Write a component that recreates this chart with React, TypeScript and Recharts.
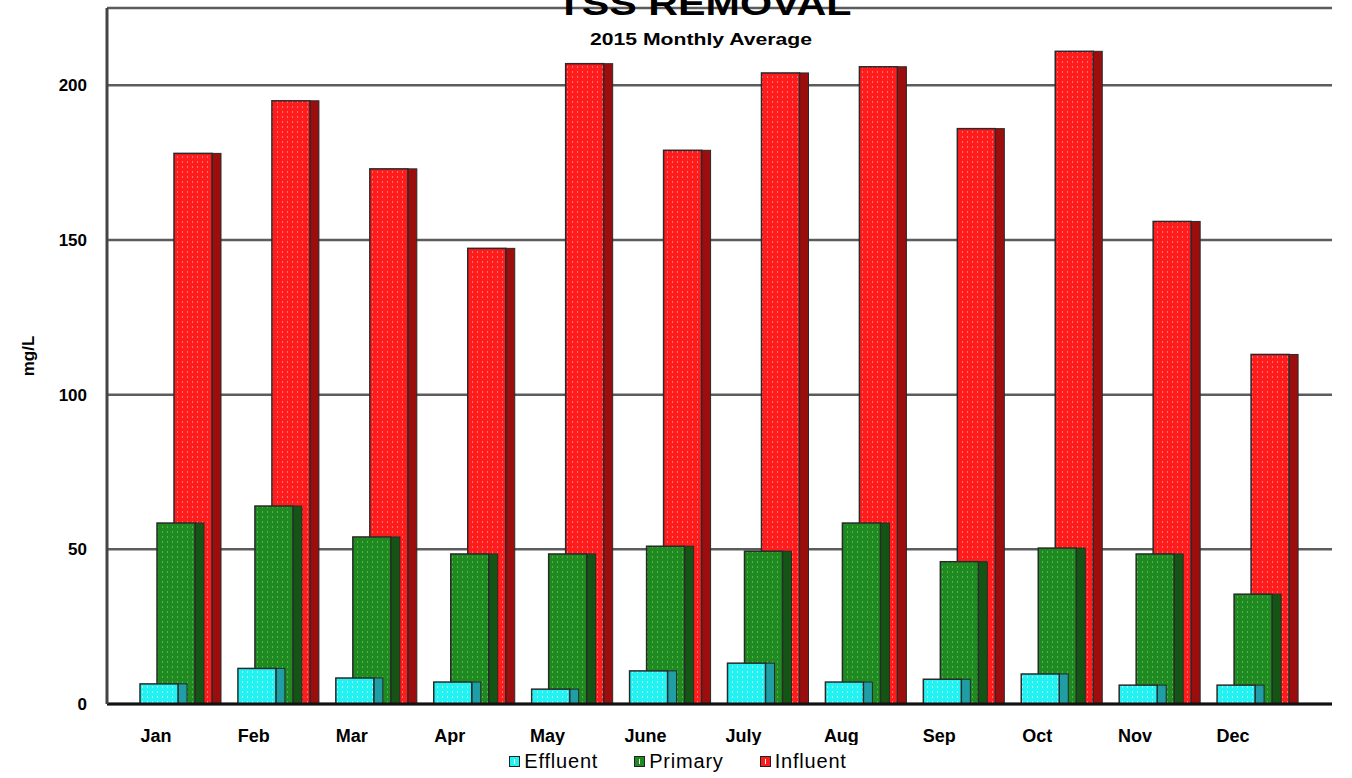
import { Bar, BarChart, CartesianGrid, Legend, XAxis, YAxis } from "recharts";

const months = ["Jan", "Feb", "Mar", "Apr", "May", "June", "July", "Aug", "Sep", "Oct", "Nov", "Dec"];
const effluent = [6.5, 11.5, 8.4, 7.1, 4.8, 10.7, 13.2, 7.1, 8, 9.7, 6.1, 6.1];
const primary = [58.5, 64, 54, 48.5, 48.5, 51, 49.4, 58.5, 46, 50.4, 48.5, 35.5];
const influent = [178, 195, 173, 147.3, 207, 179, 204, 206, 186, 211, 156, 113];
const yTicks = [0, 50, 100, 150, 200];
const legendOrder = ["Effluent", "Primary", "Influent"];

const data = months.map((month, i) => ({
  month,
  effluent: effluent[i],
  primary: primary[i],
  influent: influent[i],
}));

const FONT = '"Liberation Sans", Arial, sans-serif';

const palette = {
  effluent: { front: "#22f2f2", dots: "#a8fdfd", side: "#1f9ea6" },
  primary: { front: "#1f8a1f", dots: "#52b352", side: "#145414" },
  influent: { front: "#ff1c1c", dots: "#ff7272", side: "#9c0e0e" },
};

type Tone = { front: string; dots: string; side: string };

// front face + darker side face, a cheap 3D look
function Box3D(props: any) {
  const { x, y, width, height, tone, pid } = props as {
    x: number; y: number; width: number; height: number; tone: Tone; pid: string;
  };
  if (!height || height <= 0) return null;
  const depth = 9;
  return (
    <g>
      <rect x={x + width - depth} y={y} width={depth} height={height} fill={tone.side} stroke="#2a2a2a" strokeWidth={1} />
      <rect x={x} y={y} width={width - depth} height={height} fill={`url(#${pid})`} stroke="#2a2a2a" strokeWidth={1.5} />
    </g>
  );
}

function Swatch({ color }: { color: string }) {
  return (
    <span
      style={{
        display: "inline-block",
        width: 9,
        height: 9,
        background: color,
        border: "1.5px solid #222",
        marginRight: 4,
        position: "relative",
      }}
    >
      <span style={{ position: "absolute", left: 4, top: 2, width: 1, height: 5, background: "#fff" }} />
    </span>
  );
}

function LegendRow(props: any) {
  const items = [...(props.payload || [])].sort(
    (a: any, b: any) => legendOrder.indexOf(a.value) - legendOrder.indexOf(b.value)
  );
  return (
    <div
      style={{
        display: "flex",
        justifyContent: "center",
        alignItems: "center",
        gap: 36,
        height: 32,
        paddingLeft: 4,
        background: "#fff",
        fontSize: 20,
        letterSpacing: 0.8,
        color: "#000",
        fontFamily: FONT,
      }}
    >
      {items.map((it: any) => (
        <span key={it.value} style={{ display: "flex", alignItems: "center" }}>
          <Swatch color={it.color} />
          {it.value}
        </span>
      ))}
    </div>
  );
}

export default function App() {
  return (
    <div style={{ position: "absolute", top: 0, left: 0, width: 1352, height: 778, fontFamily: FONT, background: "#fff" }}>
      <BarChart width={1352} height={778} data={data} margin={{ top: 8, right: 20, bottom: 34, left: 0 }}>
        <CartesianGrid vertical={false} stroke="#5c5c5c" strokeWidth={2.5} />
        <XAxis
          dataKey="month"
          interval={0}
          padding={{ left: 0, right: 50 }}
          height={40}
          axisLine={{ stroke: "#111", strokeWidth: 3 }}
          tickLine={false}
          tickSize={0}
          tickMargin={25}
          tick={{ fontSize: 18, fontWeight: "bold", fill: "#000" }}
        />
        <XAxis xAxisId="i" dataKey="month" hide padding={{ left: 42, right: 8 }} />
        <XAxis xAxisId="p" dataKey="month" hide padding={{ left: 25, right: 25 }} />
        <XAxis xAxisId="e" dataKey="month" hide padding={{ left: 8, right: 42 }} />
        <YAxis
          width={107}
          domain={[0, 225]}
          ticks={yTicks}
          axisLine={{ stroke: "#444", strokeWidth: 3 }}
          tickLine={false}
          tickSize={0}
          tickMargin={20}
          tick={{ fontSize: 17, fontWeight: "bold", fill: "#000" }}
          label={{
            value: "mg/L",
            content: ({ viewBox }: any) => (
              <text
                x={0}
                y={0}
                transform={`translate(34, ${viewBox.y + viewBox.height / 2}) rotate(-90)`}
                textAnchor="middle"
                fontSize={17}
                fontWeight="bold"
                fill="#000"
              >
                mg/L
              </text>
            ),
          }}
        />
        <Legend
          layout="horizontal"
          verticalAlign="middle"
          align="center"
          content={<LegendRow />}
          wrapperStyle={{ top: 745, left: 0, width: 1352 }}
        />
        <Bar
          xAxisId="i"
          dataKey="influent"
          name="Influent"
          fill={palette.influent.front}
          barSize={47}
          isAnimationActive={false}
          shape={(p: any) => <Box3D {...p} tone={palette.influent} pid="patInf" />}
        />
        <Bar
          xAxisId="p"
          dataKey="primary"
          name="Primary"
          fill={palette.primary.front}
          barSize={47}
          isAnimationActive={false}
          shape={(p: any) => <Box3D {...p} tone={palette.primary} pid="patPri" />}
        />
        <Bar
          xAxisId="e"
          dataKey="effluent"
          name="Effluent"
          fill={palette.effluent.front}
          barSize={47}
          isAnimationActive={false}
          shape={(p: any) => <Box3D {...p} tone={palette.effluent} pid="patEff" />}
        />
      </BarChart>
      <svg width={1352} height={778} style={{ position: "absolute", top: 0, left: 0, pointerEvents: "none" }}>
        <defs>
          {(
            [
              ["patInf", palette.influent],
              ["patPri", palette.primary],
              ["patEff", palette.effluent],
            ] as [string, Tone][]
          ).map(([id, t]) => (
            <pattern key={id} id={id} patternUnits="userSpaceOnUse" width={5} height={5}>
              <rect width={5} height={5} fill={t.front} />
              <rect x={2} y={1} width={1} height={2} fill={t.dots} />
            </pattern>
          ))}
        </defs>
        <text x={704} y={15} textAnchor="middle" fontSize={34} fontWeight="bold" textLength={295} lengthAdjust="spacingAndGlyphs">
          TSS REMOVAL
        </text>
        <text x={701} y={45} textAnchor="middle" fontSize={17} fontWeight="bold" textLength={222} lengthAdjust="spacingAndGlyphs">
          2015 Monthly Average
        </text>
      </svg>
    </div>
  );
}
